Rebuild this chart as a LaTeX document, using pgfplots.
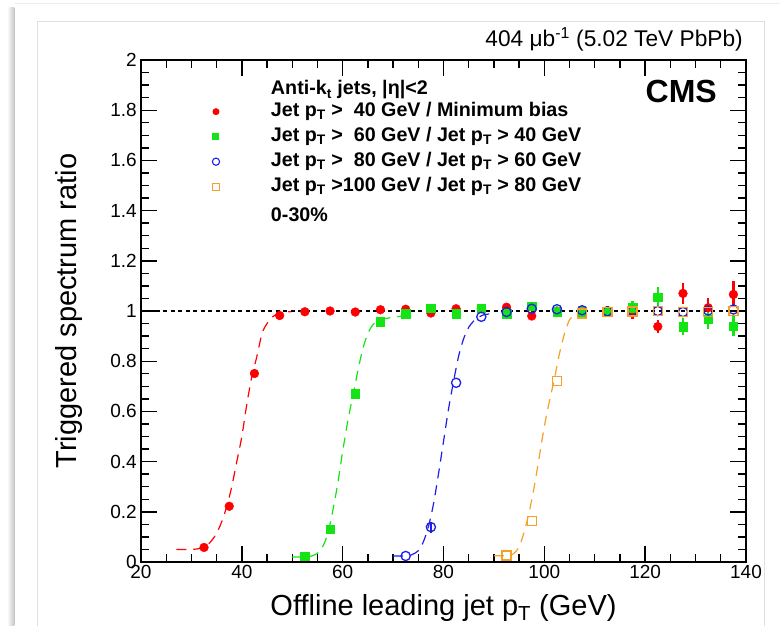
\documentclass[border=0pt]{standalone}
\usepackage{fontspec}
\setmainfont{Liberation Sans}
\usepackage{pgfplots}
\pgfplotsset{compat=1.18}
\usepackage{pgfplotstable}

\definecolor{cred}{RGB}{255,0,0}
\definecolor{cgreen}{RGB}{20,228,20}
\definecolor{cblue}{RGB}{30,30,230}
\definecolor{corange}{RGB}{245,160,40}

\pgfplotstableread{
x y ey
32.5 0.058 0.005
37.5 0.222 0.008
42.5 0.751 0.010
47.5 0.982 0.008
52.5 0.997 0.006
57.5 1.000 0.006
62.5 0.996 0.006
67.5 1.005 0.006
72.5 1.007 0.007
77.5 0.992 0.008
82.5 1.009 0.008
87.5 1.009 0.009
92.5 1.015 0.010
97.5 0.980 0.012
102.5 1.000 0.013
107.5 1.000 0.016
112.5 1.000 0.018
117.5 0.995 0.028
122.5 0.938 0.027
127.5 1.070 0.043
132.5 1.013 0.038
137.5 1.066 0.052
}\redtab

\pgfplotstableread{
x y ey
52.5 0.024 0.004
57.5 0.130 0.006
62.5 0.671 0.012
67.5 0.958 0.010
72.5 0.990 0.009
77.5 1.010 0.010
82.5 0.990 0.010
87.5 1.010 0.010
92.5 0.990 0.011
97.5 1.018 0.015
102.5 0.997 0.015
107.5 0.998 0.016
112.5 0.998 0.016
117.5 1.013 0.027
122.5 1.056 0.040
127.5 0.938 0.033
132.5 0.967 0.037
137.5 0.940 0.040
}\greentab

\pgfplotstableread{
x y ey
72.5 0.024 0
77.5 0.139 0.022
82.5 0.714 0
87.5 0.977 0
92.5 0.996 0
97.5 1.009 0
102.5 1.007 0
107.5 1.003 0
112.5 0.999 0
117.5 1.000 0
122.5 1.000 0
127.5 0.996 0
132.5 1.002 0
137.5 1.006 0
}\bluetab

\pgfplotstableread{
x y
92.5 0.026
97.5 0.162
102.5 0.720
107.5 0.990
112.5 0.997
117.5 0.998
122.5 1.000
127.5 0.996
132.5 0.996
137.5 1.000
}\orangetab

\pgfplotstableread{
x y
27 0.050
30 0.050
32 0.055
33 0.065
34 0.085
35 0.115
36 0.160
37 0.220
38 0.300
39 0.400
40 0.500
41 0.630
42 0.740
43 0.820
44 0.910
45 0.950
46 0.975
47 0.988
48 0.994
50 0.998
}\redfit

\pgfplotstableread{
x y
50 0.020
53 0.020
54 0.025
55 0.035
56 0.060
57 0.110
58 0.200
59 0.310
60 0.440
61 0.560
62 0.660
63 0.760
64 0.850
65 0.910
66 0.945
67 0.960
68 0.968
70 0.975
72 0.980
74 0.985
}\greenfit

\pgfplotstableread{
x y
70 0.024
73 0.025
74 0.032
75 0.045
76 0.080
77 0.140
78 0.230
79 0.350
80 0.480
81 0.610
82 0.720
83 0.820
84 0.890
85 0.935
86 0.960
87 0.975
88 0.985
90 0.990
}\bluefit

\pgfplotstableread{
x y
90 0.025
93 0.026
94 0.035
95 0.060
96 0.120
97 0.200
98 0.300
99 0.420
100 0.540
101 0.640
102 0.730
103 0.830
104 0.910
105 0.965
106 0.985
107 0.993
108 0.997
}\orangefit

\begin{document}
\begin{tikzpicture}
\useasboundingbox (-141pt,-63pt) rectangle (639pt,562pt);
% slide frame decoration
\shade[left color=white, right color=gray!45] (-134pt,-70pt) rectangle (-126.5pt,554pt);
\draw[gray!15, line width=0.8pt] (-126pt,559pt) -- (639pt,559pt);
\draw[gray!25, line width=0.8pt] (-104pt,-70pt) -- (-104pt,541pt) -- (623pt,541pt) -- (623pt,-70pt);
\begin{axis}[
  at={(0pt,0pt)}, anchor=south west,
  scale only axis, width=605pt, height=502pt,
  xmin=20, xmax=140, ymin=0, ymax=2,
  xtick={20,40,60,80,100,120,140},
  ytick={0,0.2,0.4,0.6,0.8,1,1.2,1.4,1.6,1.8,2},
  minor x tick num=3, minor y tick num=3,
  major tick length=16pt, minor tick length=8pt,
  tick style={line width=1.4pt, black},
  axis line style={line width=1.8pt},
  /pgf/number format/assume math mode=true,
  ticklabel style={font=\fontsize{19}{19}\selectfont},
  yticklabel style={inner sep=4pt},
  xticklabel style={inner sep=3pt},
  title={404 μb\textsuperscript{-1} (5.02 TeV PbPb)},
  title style={at={(axis description cs:0.995,1.0239)}, anchor=base east, inner sep=0pt, yshift=-4pt, font=\fontsize{22.7}{22.7}\selectfont},
  xlabel={Offline leading jet p\textsubscript{T} (GeV)},
  xlabel style={at={(axis description cs:0.5,-0.1056)}, anchor=base, inner sep=0pt, font=\fontsize{29}{29}\selectfont},
  ylabel={Triggered spectrum ratio},
  ylabel style={at={(axis description cs:-0.1421,0.5)}, anchor=north, inner sep=0pt, font=\fontsize{29}{29}\selectfont},
  legend cell align=left,
  legend style={draw=none, fill=none, at={(axis description cs:0.1171,0.9582)}, anchor=north west,
    inner sep=0pt, outer sep=0pt, column sep=50.85pt, row sep=0pt,
    font=\bfseries\fontsize{19.7}{20}\selectfont,
    nodes={inner sep=0pt, text height=14pt, text depth=11pt}},
]
% legend
\addlegendimage{empty legend}
\addlegendentry[text depth=7.7pt]{Anti-k\textsubscript{t} jets, |η|<2}
\addlegendimage{legend image code/.code={\fill[cred, draw=none] (0pt,3.5pt) circle[radius=3.5pt];}}
\addlegendentry{Jet p\textsubscript{T} >\hphantom{1}40 GeV / Minimum bias}
\addlegendimage{legend image code/.code={\fill[cgreen, draw=none] (-3.5pt,0pt) rectangle (3.5pt,7pt);}}
\addlegendentry{Jet p\textsubscript{T} >\hphantom{1}60 GeV / Jet p\textsubscript{T} > 40 GeV}
\addlegendimage{legend image code/.code={\draw[cblue, fill=none, line width=1.1pt] (0pt,3.5pt) circle[radius=3.6pt];}}
\addlegendentry{Jet p\textsubscript{T} >\hphantom{1}80 GeV / Jet p\textsubscript{T} > 60 GeV}
\addlegendimage{legend image code/.code={\draw[corange, fill=none, line width=1.1pt] (-3.6pt,-0.1pt) rectangle (3.6pt,7.1pt);}}
\addlegendentry{Jet p\textsubscript{T} >100 GeV / Jet p\textsubscript{T} > 80 GeV}
\addlegendimage{empty legend}
\addlegendentry[text height=19pt]{0-30\%}

% fit curves
\addplot[cred, line width=1.2pt, dash pattern=on 10pt off 7pt, smooth, forget plot] table[x=x,y=y] {\redfit};
\addplot[cgreen, line width=1.2pt, dash pattern=on 10pt off 7pt, smooth, forget plot] table[x=x,y=y] {\greenfit};
\addplot[cblue, line width=1.2pt, dash pattern=on 10pt off 7pt, smooth, forget plot] table[x=x,y=y] {\bluefit};
\addplot[corange, line width=1.2pt, dash pattern=on 10pt off 7pt, smooth, forget plot] table[x=x,y=y] {\orangefit};

% data
\addplot[only marks, mark=*, mark size=4.4pt, color=cred, forget plot,
  error bars/.cd, y dir=both, y explicit, error mark=none, error bar style={line width=2.5pt, cred}]
  table[x=x, y=y, y error=ey] {\redtab};
\addplot[only marks, mark=square*, mark size=4.2pt, color=cgreen, forget plot,
  error bars/.cd, y dir=both, y explicit, error mark=none, error bar style={line width=2.5pt, cgreen}]
  table[x=x, y=y, y error=ey] {\greentab};
\addplot[only marks, mark=o, mark size=4.6pt, color=cblue, mark options={line width=1.3pt}, forget plot,
  error bars/.cd, y dir=both, y explicit, error mark=none, error bar style={line width=1.5pt, cblue}]
  table[x=x, y=y, y error=ey] {\bluetab};
\addplot[only marks, mark=square, mark size=4.5pt, color=corange, mark options={line width=1.3pt}, forget plot]
  table[x=x, y=y] {\orangetab};

% reference line
\addplot[black, line width=2pt, dash pattern=on 4pt off 3.5pt, forget plot] coordinates {(20,1) (140,1)};

\node[anchor=base east, inner sep=0pt, font=\bfseries\fontsize{32}{32}\selectfont] at (rel axis cs:0.952,0.9163) {CMS};
\end{axis}
\end{tikzpicture}
\end{document}
